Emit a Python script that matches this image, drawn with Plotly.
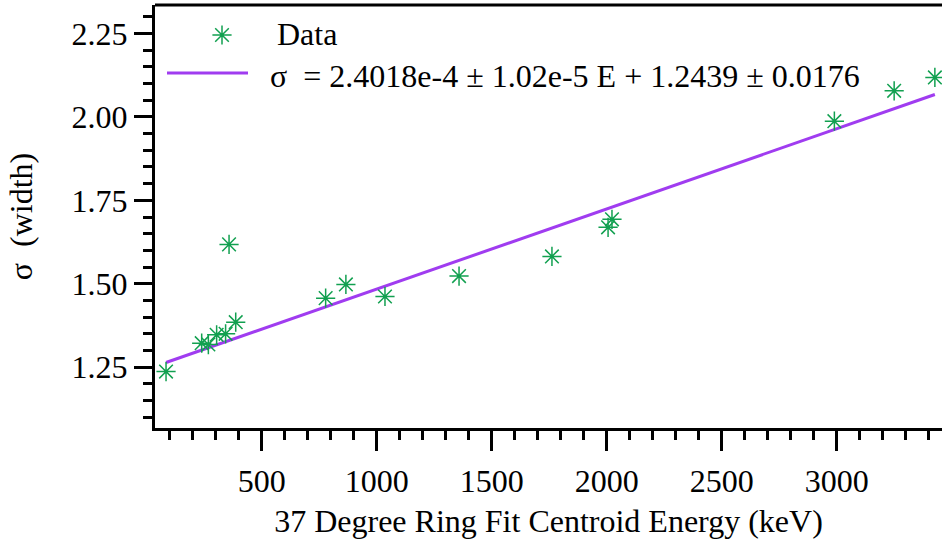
import plotly.graph_objects as go

# Ring-fit centroid energies (keV) and fitted peak widths
energy = [84, 239, 268, 304, 343, 358, 387, 778, 866, 1036, 1358, 1762,
          2006, 2023, 2990, 3250, 3427]
sigma = [1.237, 1.322, 1.318, 1.347, 1.350, 1.618, 1.385, 1.457, 1.498,
         1.462, 1.523, 1.582, 1.669, 1.693, 1.987, 2.078, 2.118]

# Linear fit parameters
slope, slope_err = 2.4018e-4, 1.02e-5
intercept, intercept_err = 1.2439, 0.0176

x_range = [36, 3458]
y_range = [1.068, 2.335]

FONT = "Liberation Serif"
FSIZE = 32
GREEN = "#12a050"
PURPLE = "#a03cf0"
BLACK = "black"

fit_x = [min(energy), max(energy)]
fit_y = [slope * e + intercept for e in fit_x]

star = dict(symbol="asterisk-open", size=16, color=GREEN,
            line=dict(color=GREEN, width=1.5))

fig = go.Figure()

fig.add_trace(go.Scatter(
    x=fit_x, y=fit_y, mode="lines",
    line=dict(color=PURPLE, width=3),
    showlegend=False, hoverinfo="skip",
))
fig.add_trace(go.Scatter(
    x=energy, y=sigma, mode="markers", marker=star, showlegend=False,
))

# Hand-drawn key in pixel space on an overlay axis pair
fig.add_trace(go.Scatter(
    x=[222], y=[35], mode="markers", marker=star,
    xaxis="x2", yaxis="y2", showlegend=False, hoverinfo="skip",
))
fig.add_trace(go.Scatter(
    x=[167, 248], y=[73, 73], mode="lines",
    line=dict(color=PURPLE, width=3),
    xaxis="x2", yaxis="y2", showlegend=False, hoverinfo="skip",
))

eq_text = (f"\u03c3\u00a0\u00a0= {slope:.4e}".replace("e-04", "e-4")
           + f" \u00b1 {slope_err:.2e}".replace("e-05", "e-5")
           + f" E + {intercept:.4f} \u00b1 {intercept_err:.4f}")

annos = [
    dict(x=275, y=34, text="Data"),
    dict(x=268, y=76, text=eq_text),
]
for a in annos:
    a.update(xref="x2", yref="y2", xanchor="left", yanchor="middle",
             showarrow=False, font=dict(family=FONT, size=FSIZE, color=BLACK))

axis_common = dict(
    showline=True, linecolor=BLACK, linewidth=3, mirror=False,
    ticks="outside", tickcolor=BLACK, tickwidth=3,
    showgrid=False, zeroline=False,
    tickfont=dict(family=FONT, size=FSIZE, color=BLACK),
)

fig.update_layout(
    width=942, height=540,
    margin=dict(l=155, r=0, t=5, b=112),
    paper_bgcolor="white", plot_bgcolor="white",
    xaxis=dict(
        range=x_range, tick0=0, dtick=500, ticklen=20,
        minor=dict(dtick=100, tick0=0, ticks="outside", ticklen=9,
                   tickwidth=3, tickcolor=BLACK),
        title=dict(text="37 Degree Ring Fit Centroid Energy (keV)",
                   font=dict(family=FONT, size=FSIZE, color=BLACK), standoff=12),
        ticklabelstandoff=3,
        **axis_common,
    ),
    yaxis=dict(
        range=y_range, tick0=0, dtick=0.25, ticklen=18, tickformat=".2f",
        minor=dict(dtick=0.05, tick0=0, ticks="outside", ticklen=9,
                   tickwidth=3, tickcolor=BLACK),
        title=dict(text="\u03c3\u00a0\u00a0(width)",
                   font=dict(family=FONT, size=FSIZE, color=BLACK), standoff=30),
        **axis_common,
    ),
    xaxis2=dict(range=[155, 942], overlaying="x", visible=False),
    yaxis2=dict(range=[428, 5], overlaying="y", visible=False),
    annotations=annos,
    shapes=[dict(type="line", xref="paper", yref="paper", x0=0, x1=1,
                 y0=1, y1=1, line=dict(color=BLACK, width=3))],
)

fig.write_html("out.html")
